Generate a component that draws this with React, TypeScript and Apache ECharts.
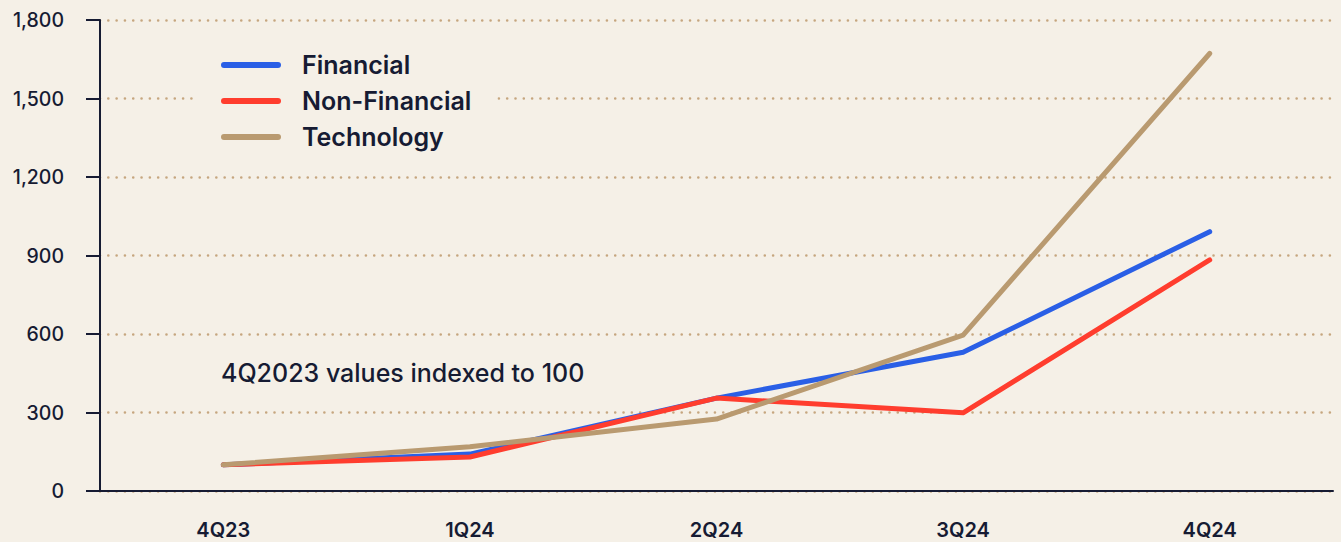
import React, { useEffect, useRef } from "react";
import * as echarts from "echarts";

const categories = ["4Q23", "1Q24", "2Q24", "3Q24", "4Q24"];
const financial = [100, 141, 355, 530, 991];
const nonFinancial = [100, 130, 355, 299, 883];
const technology = [100, 169, 275, 596, 1672];
const yTicks = { min: 0, max: 1800, interval: 300 };
const annotation = "4Q2023 values indexed to 100";

const INK = "#161b33";
const BG = "#f5f0e7";
const FONT = "Inter, 'Noto Sans', sans-serif";

export default function App() {
  const ref = useRef<HTMLDivElement>(null);
  useEffect(() => {
    document.body.style.margin = "0";
    document.body.style.background = BG;
    const chart = echarts.init(ref.current!, undefined, { renderer: "svg" });
    const lineSeries = (name: string, data: number[], color: string) => ({
      name,
      type: "line",
      data,
      symbol: "none",
      lineStyle: { color, width: 5, cap: "round", join: "round" },
      itemStyle: { color },
    });
    chart.setOption({
      animation: false,
      backgroundColor: BG,
      textStyle: { fontFamily: FONT },
      grid: { left: 100, right: 8, top: 20, bottom: 51 },
      legend: {
        orient: "vertical",
        left: 197,
        top: 42,
        padding: [10, 26, 10, 24],
        backgroundColor: BG,
        itemWidth: 60,
        itemHeight: 6,
        itemGap: 10,
        icon: "path://M3,0 H57 A3,3 0 0 1 57,6 H3 A3,3 0 0 1 3,0 Z",
        textStyle: {
          fontSize: 25,
          fontWeight: 600,
          color: INK,
          fontFamily: FONT,
          lineHeight: 26,
          padding: [0, 0, 0, 16],
        },
        data: ["Financial", "Non-Financial", "Technology"],
      },
      xAxis: {
        type: "category",
        data: categories,
        boundaryGap: true,
        axisLine: { lineStyle: { color: INK, width: 2 } },
        axisTick: { length: 12, lineStyle: { color: INK, width: 2 } },
        axisLabel: {
          margin: 29,
          fontSize: 20,
          fontWeight: 600,
          color: INK,
          fontFamily: FONT,
        },
        splitLine: { show: false },
      },
      yAxis: {
        type: "value",
        min: yTicks.min,
        max: yTicks.max,
        interval: yTicks.interval,
        axisLine: { show: true, lineStyle: { color: INK, width: 2 } },
        axisTick: { show: true, length: 14, lineStyle: { color: INK, width: 2 } },
        axisLabel: {
          margin: 36,
          fontSize: 19.5,
          fontWeight: 500,
          color: INK,
          fontFamily: FONT,
          formatter: (v: number) => v.toLocaleString("en-US"),
        },
        splitLine: {
          lineStyle: { color: "#c6a67f", width: 2.6, type: [0.01, 8.3], cap: "round" },
        },
      },
      graphic: [
        {
          type: "text",
          left: 221,
          top: 360,
          style: {
            text: annotation,
            fontSize: 25,
            fontWeight: 500,
            fill: INK,
            fontFamily: FONT,
          },
        },
      ],
      series: [
        lineSeries("Financial", financial, "#2a5fe6"),
        lineSeries("Non-Financial", nonFinancial, "#ff3d2e"),
        lineSeries("Technology", technology, "#b99a70"),
      ],
    });
    return () => chart.dispose();
  }, []);
  return <div ref={ref} style={{ width: 1341, height: 542 }} />;
}
